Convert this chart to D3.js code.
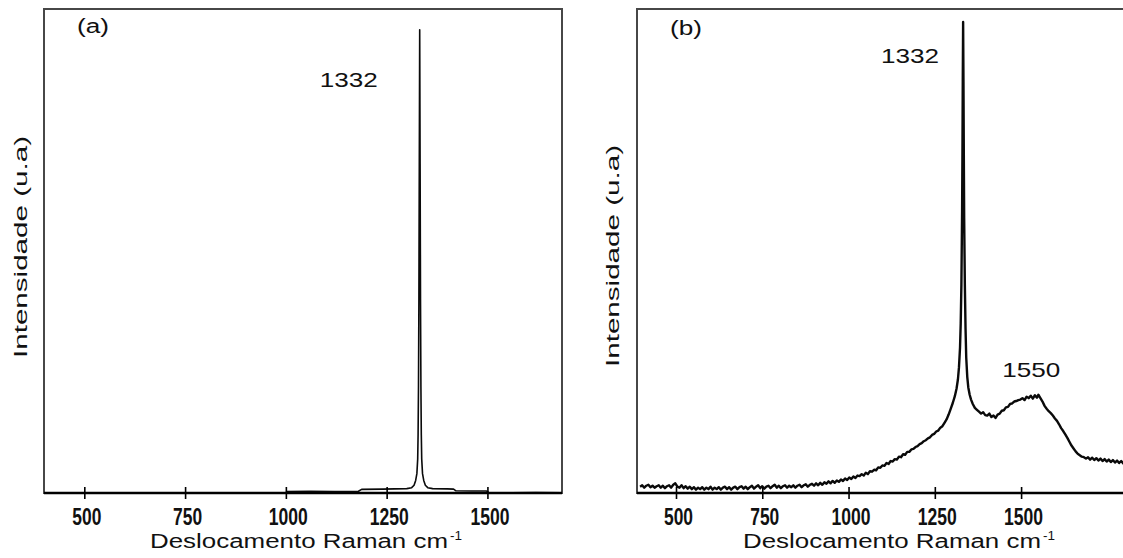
<!DOCTYPE html>
<html>
<head>
<meta charset="utf-8">
<script src="https://cdn.jsdelivr.net/npm/d3@7"></script>
<style>
  html, body { margin: 0; padding: 0; background: #fff; overflow: hidden; }
  svg { display: block; overflow: hidden; }
</style>
</head>
<body>
<svg id="chart" width="1123" height="558"></svg>
<script>
// Raman shift ticks (cm-1), shared by both spectra
const ticksCm = [500, 750, 1000, 1250, 1500];

// Spectrum (a): diamond film, single sharp line
const shiftA = [1000, 1060, 1120, 1180, 1188, 1240, 1300, 1312, 1318, 1322, 1325, 1327, 1328, 1329, 1330, 1331,
  1332, 1333, 1334, 1335, 1336, 1337, 1339, 1342, 1346, 1352, 1364, 1400, 1416, 1422, 1460, 1498, 1503, 1560, 1620, 1685];
const intensityA = [0.3, 0.35, 0.3, 0.35, 0.75, 0.8, 0.9, 1.1, 1.6, 2.6, 4.0, 7, 12, 22, 40, 68,
  95.7, 68, 40, 22, 12, 7, 4.0, 2.6, 1.6, 1.1, 0.9, 0.85, 0.8, 0.45, 0.4, 0.4, 0.1, 0.05, 0.1, 0.05];

// Spectrum (b): diamond line on a broad non-diamond carbon background
const shiftB = [396, 402, 408, 414, 420, 426, 432, 438, 444, 450, 456, 462, 468, 474, 480, 486, 492, 498, 504, 510,
  516, 522, 528, 534, 540, 546, 552, 558, 564, 570, 576, 582, 588, 594, 600, 606, 612, 618, 624, 630,
  636, 642, 648, 654, 660, 666, 672, 678, 684, 690, 696, 702, 708, 714, 720, 726, 732, 738, 744, 750,
  756, 762, 768, 774, 780, 786, 792, 798, 804, 810, 816, 822, 828, 834, 840, 846, 852, 858, 864, 870,
  876, 882, 888, 894, 900, 906, 912, 918, 924, 930, 936, 942, 948, 954, 960, 966, 972, 978, 984, 990,
  996, 1002, 1008, 1014, 1020, 1026, 1032, 1038, 1044, 1050, 1056, 1062, 1068, 1074, 1080, 1086, 1092, 1098, 1104, 1110,
  1116, 1122, 1128, 1134, 1140, 1146, 1152, 1158, 1164, 1170, 1176, 1182, 1188, 1194, 1200, 1206, 1212, 1218, 1224, 1230,
  1236, 1242, 1248, 1254, 1260, 1266, 1272, 1278, 1284, 1290, 1296, 1302, 1308, 1313, 1317, 1320, 1323, 1325, 1327, 1329,
  1330, 1331, 1332, 1333, 1334, 1335, 1337, 1339, 1341, 1344, 1347, 1351, 1355, 1360, 1366, 1372, 1378, 1384, 1390, 1396,
  1402, 1408, 1414, 1420, 1426, 1432, 1438, 1444, 1450, 1456, 1462, 1468, 1474, 1480, 1486, 1492, 1498, 1504, 1510, 1516,
  1522, 1528, 1534, 1540, 1546, 1550, 1556, 1562, 1568, 1574, 1580, 1586, 1592, 1598, 1604, 1610, 1616, 1622, 1628, 1634,
  1640, 1646, 1652, 1658, 1664, 1670, 1676, 1682, 1688, 1694, 1700, 1706, 1712, 1718, 1724, 1730, 1736, 1742, 1748, 1754,
  1760, 1766, 1772, 1778, 1784, 1790, 1796, 1802, 1808, 1814, 1820, 1826, 1832];
const intensityB = [1.3, 1.6, 1.1, 1.5, 1.7, 1.2, 1.5, 1.1, 1.4, 1.6, 1.1, 1.5, 1.0, 1.4, 1.6, 1.1, 1.7, 2.0, 1.3, 1.1,
  1.6, 1.0, 1.4, 0.9, 1.3, 0.8, 1.2, 0.7, 1.1, 0.8, 1.2, 0.7, 1.1, 0.8, 1.3, 0.7, 1.1, 0.8, 1.2, 0.7,
  1.1, 1.3, 0.8, 1.2, 0.7, 1.1, 1.3, 0.8, 1.2, 1.4, 0.9, 1.3, 0.8, 1.2, 1.5, 0.9, 1.3, 1.6, 1.0, 1.4,
  0.9, 1.3, 1.5, 1.0, 1.4, 1.7, 1.1, 1.5, 1.0, 1.4, 1.6, 1.1, 1.5, 1.2, 1.6, 1.1, 1.5, 1.7, 1.2, 1.6,
  1.8, 1.3, 1.7, 1.9, 1.5, 2.0, 1.6, 2.1, 1.7, 2.2, 1.9, 2.4, 2.0, 2.5, 2.1, 2.6, 2.3, 2.8, 2.5, 3.0,
  2.7, 3.2, 2.9, 3.4, 3.1, 3.6, 3.5, 3.9, 3.6, 4.2, 3.9, 4.5, 4.4, 4.8, 4.7, 5.3, 5.2, 5.7, 5.6, 6.2,
  6.0, 6.6, 6.5, 7.0, 6.9, 7.5, 7.4, 8.0, 7.9, 8.5, 8.5, 9.0, 9.1, 9.5, 9.7, 10.1, 10.3, 10.7, 10.9, 11.3,
  11.5, 12.0, 12.2, 12.7, 12.9, 13.5, 13.8, 14.5, 15.2, 16.2, 17.4, 18.6, 20.0, 21.6, 23.5, 26, 30, 35, 43, 58,
  70, 85, 97.3, 85, 70, 57, 43, 34, 28, 24, 21.8, 20.3, 19.3, 18.4, 17.6, 17.2, 16.8, 16.4, 16.7, 16.1,
  16.0, 16.4, 15.7, 16.0, 15.5, 16.2, 16.4, 17.0, 17.1, 17.7, 17.8, 18.4, 18.5, 18.9, 19.0, 19.2, 19.3, 19.6, 19.2, 19.9,
  19.6, 20.1, 19.5, 20.2, 19.7, 20.3, 19.6, 18.9, 18.0, 17.4, 16.9, 16.5, 16.0, 15.4, 14.9, 14.2, 13.4, 12.8, 12.1, 11.4,
  10.6, 9.8, 9.2, 8.6, 8.1, 7.8, 7.5, 7.4, 7.1, 7.4, 6.9, 7.3, 6.8, 7.2, 6.7, 7.1, 6.6, 7.0, 6.5, 6.9,
  6.4, 6.8, 6.3, 6.7, 6.2, 6.6, 6.1, 6.5, 6.2, 6.6, 6.1, 6.5, 6.3];

// Annotated band positions (cm-1)
const peaksA = [1332];
const peaksB = [1332, 1550];

const panelTags = ["(a)", "(b)"];
const xTitle = "Deslocamento Raman cm";
const xTitleSup = "-1";
const yTitle = "Intensidade (u.a)";

const W = 1123, H = 558;
const svg = d3.select("#chart");
const FONT = "'Liberation Sans', Arial, Helvetica, sans-serif";
const NARROW = "'Liberation Sans Narrow', 'Arial Narrow', 'Liberation Sans', Arial, sans-serif";

const plotTop = 9, plotBottom = 493, plotWidth = 518;
const y = d3.scaleLinear().domain([0, 100]).range([plotBottom, plotTop]);

function drawPanel(cfg) {
  const g = svg.append("g");
  const x = d3.scaleLinear().domain(cfg.domain).range([cfg.left, cfg.left + plotWidth]);
  const right = cfg.left + plotWidth;
  const visRight = Math.min(right, W + 4);

  // frame: top and left always, right side only when it lies inside the page
  const frame = [[cfg.left, plotTop, visRight, plotTop], [cfg.left, plotTop, cfg.left, plotBottom]];
  if (right < W) frame.push([right, plotTop, right, plotBottom]);
  g.selectAll("line.frame").data(frame).join("line")
    .attr("class", "frame")
    .attr("x1", d => d[0]).attr("y1", d => d[1]).attr("x2", d => d[2]).attr("y2", d => d[3])
    .attr("stroke", "#474747").attr("stroke-width", 2).attr("stroke-linecap", "square");

  // spectrum, kept inside the visible page width
  const pts = cfg.shift.map((s, i) => [s, cfg.intensity[i]]).filter(d => x(d[0]) <= W + 4);
  g.append("path").datum(pts)
    .attr("d", d3.line().x(d => x(d[0])).y(d => y(d[1])))
    .attr("fill", "none").attr("stroke", "#0a0a0a")
    .attr("stroke-width", cfg.lineWidth)
    .attr("stroke-linejoin", "round");

  // bottom axis with ticks crossing the line
  const ax = g.append("g")
    .attr("transform", `translate(0,${plotBottom})`)
    .call(d3.axisBottom(x).tickValues(ticksCm).tickSizeInner(6).tickSizeOuter(0).tickFormat(d3.format("d")));
  ax.select(".domain").attr("d", `M${cfg.left},0H${visRight}`)
    .attr("stroke", "#000").attr("stroke-width", 2.6);
  ax.selectAll(".tick line").attr("y1", -6).attr("y2", 6).attr("stroke", "#000").attr("stroke-width", 1.6);
  ax.selectAll(".tick text")
    .attr("y", 32).attr("dy", null).attr("dx", 2)
    .attr("font-family", NARROW).attr("font-weight", "bold").attr("font-size", 24)
    .attr("fill", "#111")
    .attr("textLength", d => String(d).length * 10 - 1)
    .attr("lengthAdjust", "spacingAndGlyphs");

  // x title with superscript
  g.append("text")
    .attr("x", cfg.left + 106).attr("y", 548)
    .attr("font-family", FONT).attr("font-size", 20).attr("fill", "#111")
    .attr("textLength", 298).attr("lengthAdjust", "spacingAndGlyphs")
    .text(xTitle);
  g.append("text")
    .attr("x", cfg.left + 406).attr("y", 540)
    .attr("font-family", FONT).attr("font-size", 13).attr("fill", "#111")
    .attr("textLength", 12).attr("lengthAdjust", "spacingAndGlyphs")
    .text(xTitleSup);

  // y title
  g.append("text")
    .attr("transform", `translate(${cfg.yTitleX},${cfg.yTitleY}) rotate(-90)`)
    .attr("text-anchor", "middle")
    .attr("font-family", FONT).attr("font-size", 18).attr("fill", "#111")
    .attr("textLength", 222).attr("lengthAdjust", "spacingAndGlyphs")
    .text(yTitle);

  // panel tag
  g.append("text")
    .attr("x", cfg.left + cfg.tagDx).attr("y", cfg.tagY)
    .attr("font-family", FONT).attr("font-size", 20).attr("fill", "#111")
    .attr("textLength", 32).attr("lengthAdjust", "spacingAndGlyphs")
    .text(cfg.tag);

  // band labels
  cfg.peaks.forEach((p, i) => {
    const lbl = d3.format("d")(p);
    g.append("text")
      .attr("x", x(p) + cfg.labelDx[i]).attr("y", cfg.labelY[i])
      .attr("text-anchor", "middle")
      .attr("font-family", FONT).attr("font-size", 21).attr("fill", "#111")
      .attr("textLength", lbl.length * 14.5).attr("lengthAdjust", "spacingAndGlyphs")
      .text(lbl);
  });
}

drawPanel({
  left: 44, domain: [400, 1685],
  shift: shiftA, intensity: intensityA, lineWidth: 1.6,
  peaks: peaksA, labelDx: [-71], labelY: [87],
  tag: panelTags[0], tagDx: 33, tagY: 33,
  yTitleX: 27, yTitleY: 247
});

drawPanel({
  left: 637, domain: [387, 1888],
  shift: shiftB, intensity: intensityB, lineWidth: 2.4,
  peaks: peaksB, labelDx: [-53, -7], labelY: [63, 377],
  tag: panelTags[1], tagDx: 33, tagY: 35,
  yTitleX: 619, yTitleY: 256
});
</script>
</body>
</html>
